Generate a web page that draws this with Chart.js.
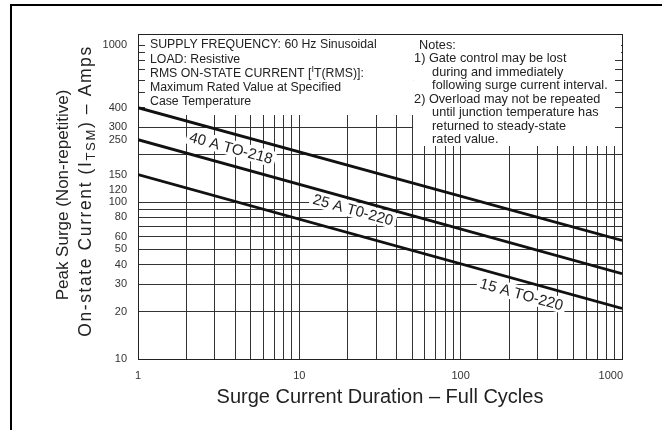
<!DOCTYPE html>
<html>
<head>
<meta charset="utf-8">
<script src="https://cdn.jsdelivr.net/npm/chart.js@4.4.1/dist/chart.umd.min.js"></script>
<style>
  html, body { margin: 0; padding: 0; background: #fff; }
  #wrap { width: 662px; height: 430px; }
</style>
</head>
<body>
<div id="wrap"><canvas id="surge" width="662" height="430"></canvas></div>
<script>
// Surge duration, full cycles (ends of each rating line)
const cycles = [1, 1000];

// Peak non-repetitive surge current, amps
const surge40A = [400, 57];
const surge25A = [250, 35];
const surge15A = [150, 21];

const seriesNames = ['40 A TO-218', '25 A T0-220', '15 A TO-220'];

const xTickLabels = [1, 10, 100, 1000];
const xGridValues = [2, 3, 4, 5, 6, 7, 8, 9, 10, 20, 30, 40, 50, 60, 70, 80, 90, 100, 200, 300, 400, 500, 600, 700, 800, 900];
const yTickLabels = [10, 20, 30, 40, 50, 60, 80, 100, 120, 150, 250, 300, 400, 1000];
const yGridValues = [20, 30, 40, 50, 60, 70, 80, 90, 100, 200, 300, 400, 500, 600, 700, 800, 900, 1000];

const conditionLines = [
  [['SUPPLY FREQUENCY: 60 Hz Sinusoidal']],
  [['LOAD: Resistive']],
  [['RMS ON-STATE CURRENT ['], ['I', 'sup'], ['T(RMS)]:']],
  [['Maximum Rated Value at Specified']],
  [['Case Temperature']]
];
// [text, indent level]
const noteLines = [
  ['Notes:', 0],
  ['1) Gate control may be lost', 1],
  ['during and immediately', 2],
  ['following surge current interval.', 2],
  ['2) Overload may not be repeated', 1],
  ['until junction temperature has', 2],
  ['returned to steady-state', 2],
  ['rated value.', 2]
];

const FONT = '"Liberation Sans", Arial, Helvetica, sans-serif';
const INK = '#222';
const GRID = '#333';

// where each rating label sits: fraction along its line, offset below it (px)
const curveLabelPlacement = [
  { t: 0.2, off: 14 },
  { t: 0.45, off: 10 },
  { t: 0.8, off: 13 }
];

function drawRuns(ctx, runs, x, y, size, align) {
  const widths = runs.map(r => {
    ctx.font = (r[1] ? size * 0.75 : size) + 'px ' + FONT;
    return ctx.measureText(r[0]).width;
  });
  const total = widths.reduce((a, b) => a + b, 0);
  let cx = align === 'center' ? x - total / 2 : x;
  runs.forEach((r, i) => {
    ctx.font = (r[1] ? size * 0.75 : size) + 'px ' + FONT;
    let dy = 0;
    if (r[1] === 'sup') dy = -size * 0.3;
    if (r[1] === 'sub') dy = size * 0.3;
    ctx.textAlign = 'left';
    ctx.fillText(r[0], cx, y + dy);
    cx += widths[i];
  });
}

const overlays = {
  id: 'overlays',
  beforeDraw(chart) {
    const ctx = chart.ctx;
    ctx.save();
    ctx.fillStyle = '#000';
    ctx.fillRect(10, 4, chart.width - 10, 2);
    ctx.fillRect(10, 4, 2, chart.height - 4);
    ctx.restore();
  },
  beforeDatasetsDraw(chart) {
    const { ctx, chartArea: a, scales: { x, y } } = chart;
    ctx.save();

    // white panels holding the test conditions and notes
    const split = x.getPixelForValue(50) + 1;
    ctx.fillStyle = '#fff';
    ctx.fillRect(a.left + 7, a.top + 1, split - a.left - 7, 80);
    ctx.fillRect(split, a.top + 1, a.right - split - 7, 111);
    ctx.fillRect(split, a.top + 1, a.right - split - 1, y.getPixelForValue(850) - a.top);

    ctx.fillStyle = INK;
    ctx.textBaseline = 'middle';
    conditionLines.forEach((runs, i) => {
      drawRuns(ctx, runs, a.left + 12, a.top + 11 + i * 14.2, 12.3, 'left');
    });
    noteLines.forEach(([txt, lvl], i) => {
      const ix = [split + 6, split + 1, split + 19][lvl];
      drawRuns(ctx, [[txt]], ix, a.top + 11 + i * 13.5, 12.7, 'left');
    });

    // rating labels along each line
    chart.data.datasets.forEach((ds, i) => {
      const p = curveLabelPlacement[i];
      const x0 = x.getPixelForValue(ds.data[0].x), y0 = y.getPixelForValue(ds.data[0].y);
      const x1 = x.getPixelForValue(ds.data[1].x), y1 = y.getPixelForValue(ds.data[1].y);
      const ang = Math.atan2(y1 - y0, x1 - x0);
      const px = x0 + (x1 - x0) * p.t - Math.sin(ang) * p.off;
      const py = y0 + (y1 - y0) * p.t + Math.cos(ang) * p.off;
      ctx.save();
      ctx.translate(px, py);
      ctx.rotate(ang);
      ctx.font = '15px ' + FONT;
      const w = ctx.measureText(ds.label).width;
      ctx.fillStyle = '#fff';
      ctx.fillRect(-w / 2 - 3, -8, w + 6, 16);
      ctx.fillStyle = INK;
      ctx.textAlign = 'center';
      ctx.textBaseline = 'middle';
      ctx.fillText(ds.label, 0, 1);
      ctx.restore();
    });

    // plot frame
    ctx.strokeStyle = '#222';
    ctx.lineWidth = 1;
    ctx.strokeRect(Math.round(a.left) + 0.5, Math.round(a.top) + 0.5,
      Math.round(a.right - a.left), Math.round(a.bottom - a.top));
    ctx.restore();
  },
  afterDraw(chart) {
    const { ctx, chartArea: a, scales: { x } } = chart;
    ctx.save();
    ctx.fillStyle = '#333';
    ctx.textBaseline = 'middle';
    ctx.font = '11px ' + FONT;
    xTickLabels.forEach((v, i) => {
      const last = i === xTickLabels.length - 1;
      ctx.textAlign = last ? 'right' : 'center';
      ctx.fillText(String(v), x.getPixelForValue(v) + (last ? 1 : 0), a.bottom + 17);
    });

    ctx.fillStyle = INK;
    ctx.textAlign = 'center';
    ctx.font = '20px ' + FONT;
    ctx.fillText('Surge Current Duration \u2013 Full Cycles', (a.left + a.right) / 2, a.bottom + 38);

    // two-line y axis title, read bottom to top
    ctx.save();
    ctx.translate(63, 195);
    ctx.rotate(-Math.PI / 2);
    drawRuns(ctx, [['Peak Surge (Non-repetitive)']], 0, 0, 17, 'center');
    ctx.restore();
    ctx.save();
    ctx.translate(86, 191);
    ctx.rotate(-Math.PI / 2);
    ctx.letterSpacing = '1.6px';
    drawRuns(ctx, [['On-state Current (I'], ['TSM', 'sub'], [') \u2013 Amps']], 0, 0, 17.5, 'center');
    ctx.restore();
    ctx.restore();
  }
};

const lineStyle = { borderColor: '#111', borderWidth: 2.8, pointRadius: 0, tension: 0, fill: false };

new Chart(document.getElementById('surge'), {
  type: 'line',
  data: {
    datasets: [
      { label: seriesNames[0], data: cycles.map((c, i) => ({ x: c, y: surge40A[i] })), ...lineStyle },
      { label: seriesNames[1], data: cycles.map((c, i) => ({ x: c, y: surge25A[i] })), ...lineStyle },
      { label: seriesNames[2], data: cycles.map((c, i) => ({ x: c, y: surge15A[i] })), ...lineStyle }
    ]
  },
  options: {
    responsive: false,
    animation: false,
    events: [],
    layout: { padding: { top: 34, right: 40, left: 0, bottom: 0 } },
    plugins: { legend: { display: false }, tooltip: { enabled: false } },
    scales: {
      x: {
        type: 'logarithmic',
        min: 1,
        max: 1000,
        afterBuildTicks: s => { s.ticks = xGridValues.map(v => ({ value: v })); },
        afterFit: s => { s.height = 71; },
        border: { display: false },
        grid: { color: GRID, lineWidth: 1, drawTicks: false },
        ticks: { display: false }
      },
      y: {
        type: 'logarithmic',
        min: 10,
        max: 1180,
        afterBuildTicks: s => {
          const vals = [...new Set([...yTickLabels, ...yGridValues])].sort((a, b) => a - b);
          s.ticks = vals.map(v => ({ value: v }));
        },
        afterFit: s => { s.width = 138; },
        border: { display: false },
        grid: {
          color: ctx => (ctx.tick && yGridValues.includes(ctx.tick.value)) ? GRID : 'rgba(0,0,0,0)',
          lineWidth: 1,
          drawTicks: false
        },
        ticks: {
          autoSkip: false,
          padding: 11,
          color: '#333',
          font: { family: FONT, size: 11 },
          callback: v => yTickLabels.includes(v) ? String(v) : ''
        }
      }
    }
  },
  plugins: [overlays]
});
</script>
</body>
</html>
